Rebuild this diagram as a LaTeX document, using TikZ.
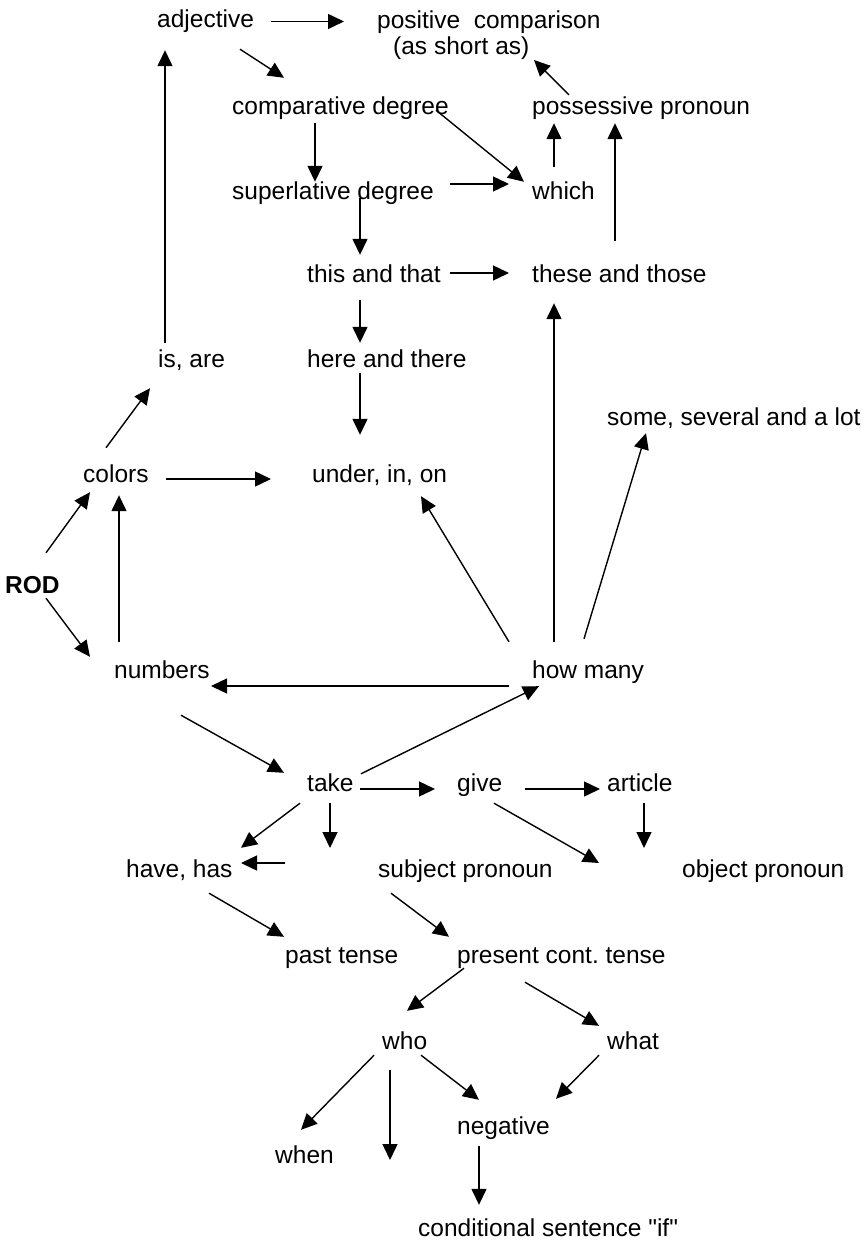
\documentclass[tikz,border=0pt]{standalone}
\usepackage{fontspec}
\newfontfamily\wordfamily{Liberation Sans}
\usetikzlibrary{arrows.meta}
\newcommand{\wordfont}{\wordfamily\fontsize{24.5pt}{26pt}\selectfont}
\tikzset{
  word/.style={font=\wordfont, inner sep=0pt, text height=18pt, text depth=5pt, anchor=base west},
  link/.style={-{Triangle[length=16pt,width=15pt]}, line width=1.4pt},
}
\begin{document}
\begin{tikzpicture}[x=1pt, y=-1pt]
  \useasboundingbox (0,0) rectangle (864,1247);
  % Upper words
  \node[word] (adj) at (157,28) {adjective};
  \node[font=\wordfont, inner sep=0pt, align=left, anchor=north west] (pos) at (377,11) {positive\ \ comparison\\\hspace{16pt}(as short as)};
  \node[word] (comp) at (232,114) {comparative degree};
  \node[word] (poss) at (532,114) {possessive pronoun};
  \node[word] (sup) at (232,199) {superlative degree};
  \node[word] (which) at (532,199) {which};
  \node[word] (this) at (307,282) {this and that};
  \node[word] (these) at (532,282) {these and those};
  \node[word] (isare) at (158,367) {is, are};
  \node[word] (here) at (307,367) {here and there};
  \node[word] (some) at (607,425) {some, several and a lot};
  \node[word] (colors) at (83,482) {colors};
  \node[word] (under) at (312,482) {under, in, on};
  \node[word, font=\wordfont\bfseries] (rod) at (5,593) {ROD};
  \node[word] (num) at (114,678) {numbers};
  \node[word] (how) at (532,678) {how many};
  % Lower words
  \node[word] (take) at (307,791) {take};
  \node[word] (give) at (457,791) {give};
  \node[word] (art) at (607,791) {article};
  \node[word] (have) at (126,877) {have, has};
  \node[word] (subj) at (378,877) {subject pronoun};
  \node[word] (obj) at (682,877) {object pronoun};
  \node[word] (past) at (285,963) {past tense};
  \node[word] (pres) at (457,963) {present cont.\ tense};
  \node[word] (who) at (382,1049) {who};
  \node[word] (what) at (607,1049) {what};
  \node[word] (neg) at (457,1134) {negative};
  \node[word] (when) at (275,1163) {when};
  \node[word] (cond) at (418,1236) {conditional sentence "if"};
  % Loose ends
  \coordinate (takedown) at (330,848);
  \coordinate (haveright) at (285,863);
  \coordinate (artdown) at (644,848);
  \coordinate (whodown) at (390,1160);
  % Upper arrows
  \draw[link] ([xshift=114pt]adj.west) -- ([xshift=-33pt,yshift=-10.5pt]pos.north west);
  \draw[link] ([xshift=83pt,yshift=-16pt]adj.south west) -- ([xshift=52pt,yshift=18pt]comp.north west);
  \draw[link] ([xshift=7pt,yshift=6pt]isare.north west) -- ([xshift=8pt,yshift=-17pt]adj.south west);
  \draw[link] ([xshift=37pt,yshift=1pt]poss.north west) -- ([xshift=157pt,yshift=-49pt]pos.north west);
  \draw[link] ([xshift=83pt,yshift=-4pt]comp.south west) -- ([xshift=83pt,yshift=-1pt]sup.north west);
  \draw[link] ([xshift=204pt,yshift=9pt]comp.south west) -- ([xshift=-8pt,yshift=-1pt]which.north west);
  \draw[link] ([xshift=218pt,yshift=8.5pt]sup.west) -- ([xshift=-23pt,yshift=8.5pt]which.west);
  \draw[link] ([xshift=22pt,yshift=14pt]which.north west) -- ([xshift=22pt,yshift=-4pt]poss.south west);
  \draw[link] ([xshift=83pt,yshift=23pt]these.north west) -- ([xshift=83pt,yshift=-4pt]poss.south west);
  \draw[link] ([xshift=128pt,yshift=6pt]sup.south west) -- ([xshift=53pt,yshift=9pt]this.north west);
  \draw[link] ([xshift=143pt,yshift=2.5pt]this.west) -- ([xshift=-23pt,yshift=2.5pt]these.west);
  \draw[link] ([xshift=53pt,yshift=-13pt]this.south west) -- ([xshift=53pt,yshift=6pt]here.north west);
  \draw[link] ([xshift=22pt,yshift=18pt]how.north west) -- ([xshift=22pt,yshift=-16pt]these.south west);
  \draw[link] ([xshift=53pt,yshift=-1pt]here.south west) -- ([xshift=48pt,yshift=29pt]under.north west);
  \draw[link] ([xshift=23pt,yshift=16pt]colors.north west) -- ([xshift=-8pt,yshift=-16pt]isare.south west);
  \draw[link] ([xshift=83pt,yshift=-3.5pt]colors.west) -- ([xshift=-41pt,yshift=-3.5pt]under.west);
  \draw[link] ([xshift=41pt,yshift=22pt]rod.north west) -- ([xshift=7pt,yshift=-5pt]colors.south west);
  \draw[link] ([xshift=41pt]rod.south west) -- ([xshift=-24pt,yshift=3pt]num.north west);
  \draw[link] ([xshift=5pt,yshift=18pt]num.north west) -- ([xshift=36pt,yshift=-8pt]colors.south west);
  \draw[link] ([xshift=-23pt,yshift=18pt]how.north west) -- ([xshift=109pt,yshift=-9pt]under.south west);
  \draw[link] ([xshift=52pt,yshift=21pt]how.north west) -- ([xshift=39pt,yshift=-3pt]some.south west);
  \draw[link] ([xshift=-23pt,yshift=-14.5pt]how.west) -- ([xshift=97pt,yshift=-14.5pt]num.west);
  % Lower arrows
  \draw[link] ([xshift=54pt,yshift=-1pt]take.north west) -- ([xshift=7pt,yshift=-3pt]how.south west);
  \draw[link] ([xshift=67pt,yshift=-32pt]num.south west) -- ([xshift=-23pt]take.north west);
  \draw[link] ([xshift=53pt,yshift=-4.5pt]take.west) -- ([xshift=-22pt,yshift=-4.5pt]give.west);
  \draw[link] ([xshift=68pt,yshift=-4.5pt]give.west) -- ([xshift=-7pt,yshift=-4.5pt]art.west);
  \draw[link] ([xshift=-7pt,yshift=-7pt]take.south west) -- ([xshift=115pt,yshift=11pt]have.north west);
  \draw[link] ([xshift=23pt,yshift=-7pt]take.south west) -- (takedown);
  \draw[link] (haveright) -- ([xshift=115pt,yshift=7.5pt]have.west);
  \draw[link] ([xshift=37pt,yshift=-7pt]give.south west) -- ([xshift=-83pt,yshift=7.5pt]obj.west);
  \draw[link] ([xshift=37pt,yshift=-7pt]art.south west) -- (artdown);
  \draw[link] ([xshift=83pt,yshift=-11pt]have.south west) -- ([xshift=-1pt,yshift=8pt]past.north west);
  \draw[link] ([xshift=13pt,yshift=-11pt]subj.south west) -- ([xshift=-8pt,yshift=8pt]pres.north west);
  \draw[link] ([xshift=7pt]pres.south west) -- ([xshift=25pt,yshift=20pt]who.north west);
  \draw[link] ([xshift=68pt,yshift=-14pt]pres.south west) -- ([xshift=-8pt,yshift=5pt]what.north west);
  \draw[link] ([xshift=-8pt,yshift=-1pt]who.south west) -- ([xshift=26pt,yshift=15pt]when.north west);
  \draw[link] ([xshift=8pt,yshift=-16pt]who.south west) -- (whodown);
  \draw[link] ([xshift=39pt,yshift=-1pt]who.south west) -- ([xshift=22pt,yshift=16pt]neg.north west);
  \draw[link] ([xshift=-8pt,yshift=-1pt]what.south west) -- ([xshift=99pt,yshift=17pt]neg.north west);
  \draw[link] ([xshift=22pt,yshift=-7pt]neg.south west) -- ([xshift=61pt,yshift=13pt]cond.north west);
\end{tikzpicture}
\end{document}
